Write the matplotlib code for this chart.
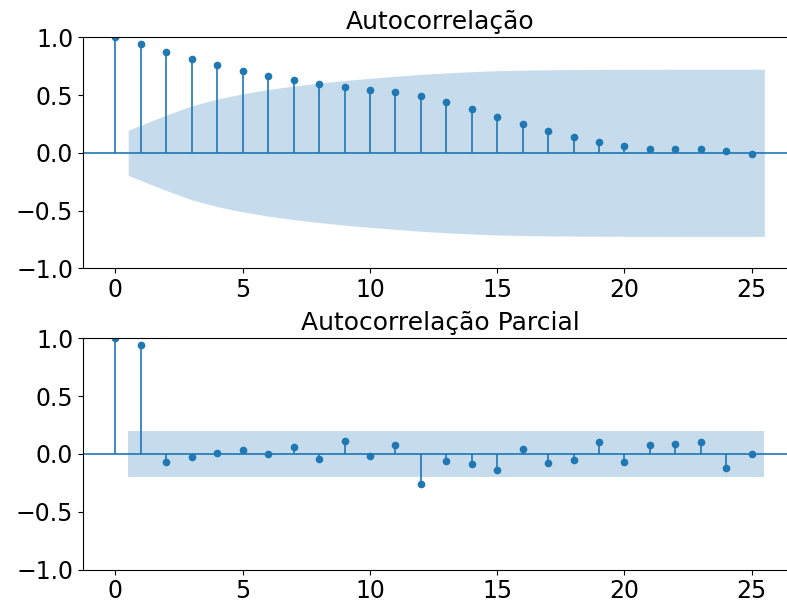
import matplotlib
matplotlib.use("Agg")
import matplotlib.pyplot as plt
import numpy as np

BLUE = "#1f77b4"

lags = np.arange(26)

# values
acf_vals = [1.0, 0.943, 0.876, 0.816, 0.761, 0.710, 0.667, 0.629, 0.592,
            0.569, 0.546, 0.529, 0.489, 0.437, 0.379, 0.307, 0.253, 0.193,
            0.138, 0.098, 0.060, 0.037, 0.029, 0.032, 0.014, -0.006]
# confidence band half-width, lags 1..25
acf_band = [0.196, 0.327, 0.407, 0.466, 0.511, 0.548, 0.578, 0.604, 0.626,
            0.645, 0.663, 0.679, 0.692, 0.703, 0.711, 0.716, 0.719, 0.721,
            0.722, 0.723, 0.723, 0.724, 0.724, 0.724, 0.724]

pacf_vals = [1.0, 0.942, -0.066, -0.026, 0.009, 0.037, -0.003, 0.058, -0.043,
             0.112, -0.017, 0.075, -0.259, -0.058, -0.089, -0.138, 0.043,
             -0.075, -0.052, 0.104, -0.072, 0.081, 0.089, 0.104, -0.118, 0.003]
pacf_band = [0.196] * 25

titles = ["Autocorrelação", "Autocorrelação Parcial"]


def corr_panel(ax, vals, band, title):
    ax.vlines(lags, 0, vals, color=BLUE, lw=1.2)
    ax.axhline(0, color=BLUE, lw=1.2)
    ax.plot(lags, vals, "o", color=BLUE, markersize=4.5)
    bx = lags[1:].astype(float)
    bx[0] -= 0.5
    bx[-1] += 0.5
    band = np.array(band)
    ax.fill_between(bx, -band, band, color=BLUE, alpha=0.25, lw=0)
    ax.set_ylim(-1.0, 1.0)
    ax.set_title(title, fontsize=18)
    ax.tick_params(labelsize=17)


fig = plt.figure(figsize=(7.87, 6.0), dpi=100)
ax1 = fig.add_axes([0.1055, 0.5528, 0.907, 0.385])
ax2 = fig.add_axes([0.1055, 0.0505, 0.907, 0.3857])

corr_panel(ax1, acf_vals, acf_band, titles[0])
corr_panel(ax2, pacf_vals, pacf_band, titles[1])

fig.savefig("out.png", dpi=100)
